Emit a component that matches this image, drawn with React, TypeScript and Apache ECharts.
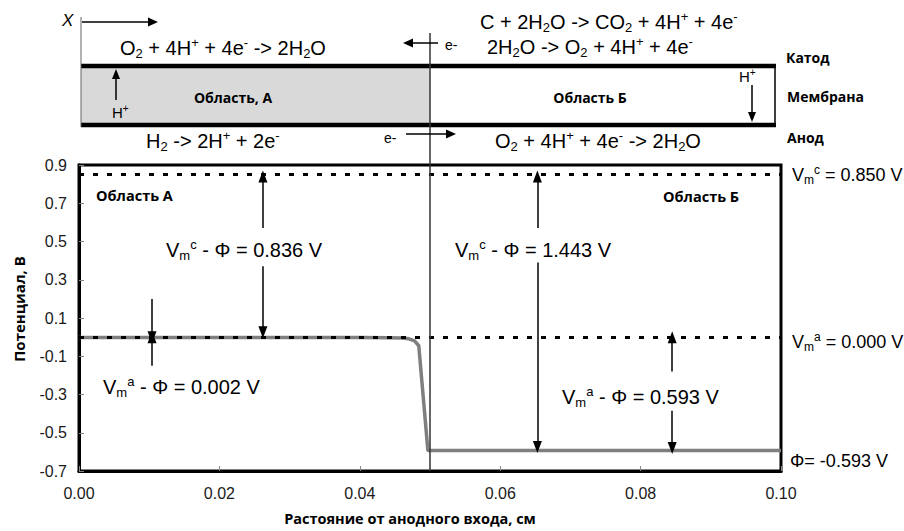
import React, { useEffect, useRef } from 'react';
import * as echarts from 'echarts';

// ---- data ----
const distance = [0, 0.01, 0.02, 0.03, 0.04, 0.044, 0.046, 0.047, 0.0478, 0.0484, 0.0497, 0.06, 0.08, 0.1];
const potential = [-0.002, -0.002, -0.002, -0.002, -0.002, -0.003, -0.005, -0.009, -0.02, -0.045, -0.593, -0.593, -0.593, -0.593];
const referenceLevels = [0.85, 0.0]; // Vm^c, Vm^a
const boundaryX = 0.05;
// [x, yFrom, yTo] annotation arrows (head at yTo)
const arrowSpecs: [number, number, number][] = [
  [0.0262, 0.57, 0.84],
  [0.0262, 0.37, 0.025],
  [0.0104, 0.2, 0.0],
  [0.0104, -0.15, 0.0],
  [0.0653, 0.57, 0.84],
  [0.0653, 0.39, -0.575],
  [0.0845, -0.18, 0.0],
  [0.0845, -0.385, -0.58],
];
const xTicks = { min: 0, max: 0.1, interval: 0.02 };
const yTicks = { min: -0.7, max: 0.9, interval: 0.2 };

const FF = '"Liberation Sans", Arial, sans-serif';
const FB = '"Open Sans", "Noto Sans", sans-serif';

function richFor(fs: number) {
  const s = Math.round(fs * 0.66);
  return {
    sub: { fontSize: s, lineHeight: s, verticalAlign: 'bottom', fontFamily: FF, fill: '#000' },
    sup: { fontSize: s, lineHeight: s, verticalAlign: 'top', fontFamily: FF, fill: '#000' },
  };
}

function txt(text: string, x: number, y: number, fs: number, opts: any = {}) {
  const align = opts.align || 'left';
  return {
    type: 'text',
    x,
    y,
    z: 20,
    silent: true,
    style: {
      text,
      fontSize: fs,
      fontFamily: opts.bold ? FB : FF,
      fontWeight: opts.bold ? 'bold' : 'normal',
      fontStyle: opts.italic ? 'italic' : 'normal',
      fill: '#000',
      lineHeight: Math.round(fs * 1.2),
      align,
      textAlign: align,
      verticalAlign: 'middle',
      textVerticalAlign: 'middle',
      rich: richFor(fs),
    },
  };
}

function arrowG(x1: number, y1: number, x2: number, y2: number, head = 9, w = 4, lw = 1.5) {
  const dx = x2 - x1, dy = y2 - y1;
  const len = Math.hypot(dx, dy);
  const ux = dx / len, uy = dy / len;
  const bx = x2 - ux * head, by = y2 - uy * head;
  return [
    { type: 'line', z: 20, silent: true, shape: { x1, y1, x2: bx, y2: by }, style: { stroke: '#000', lineWidth: lw } },
    {
      type: 'polygon', z: 20, silent: true,
      shape: { points: [[x2, y2], [bx - uy * w, by + ux * w], [bx + uy * w, by - ux * w]] },
      style: { fill: '#000' },
    },
  ];
}

export default function App() {
  const ref = useRef<HTMLDivElement>(null);
  useEffect(() => {
    document.body.style.margin = '0';
    const chart = echarts.init(ref.current!, null, { renderer: 'svg' });

    const arrowLines = arrowSpecs.map(([x, y1, y2]) => [
      { coord: [x, y1], symbol: 'none' },
      { coord: [x, y2], symbol: 'triangle', symbolSize: [9, 12] },
    ]);

    chart.setOption({
      animation: false,
      grid: { left: 79, right: 123, top: 165, bottom: 51, show: true, borderColor: '#000', borderWidth: 3 },
      xAxis: {
        type: 'value',
        ...xTicks,
        name: 'Растояние от анодного входа, см',
        nameLocation: 'middle',
        nameGap: 40,
        nameTextStyle: { fontFamily: FB, fontWeight: 'bold', fontSize: 14.5, color: '#000', padding: [0, 40, 0, 0] },
        axisLine: { show: true, onZero: false, lineStyle: { color: '#000', width: 3 } },
        axisTick: { show: true, inside: true, length: 5, lineStyle: { color: '#888' } },
        axisLabel: { fontFamily: FF, fontSize: 16, color: '#1a1a1a', margin: 14, formatter: (v: number) => v.toFixed(2) },
        splitLine: { show: false },
      },
      yAxis: {
        type: 'value',
        ...yTicks,
        name: 'Потенциал, В',
        nameLocation: 'middle',
        nameGap: 53,
        nameTextStyle: { fontFamily: FB, fontWeight: 'bold', fontSize: 15, color: '#000', padding: [0, 0, 0, 18] },
        axisLine: { show: true, onZero: false, lineStyle: { color: '#000', width: 3 } },
        axisTick: { show: true, inside: true, length: 5, lineStyle: { color: '#888' } },
        axisLabel: { fontFamily: FF, fontSize: 16, color: '#1a1a1a', margin: 12, formatter: (v: number) => String(Math.round(v * 10) / 10) },
        splitLine: { show: false },
      },
      series: [
        {
          type: 'line',
          data: [],
          z: 1,
          silent: true,
          markLine: {
            silent: true,
            animation: false,
            label: { show: false },
            symbol: 'none',
            lineStyle: { color: '#000', width: 3, type: [5, 9] },
            emphasis: { disabled: true },
            data: referenceLevels.map((v) => ({ yAxis: v })),
          },
        },
        {
          type: 'line',
          data: [],
          z: 2,
          silent: true,
          markLine: {
            silent: true,
            animation: false,
            label: { show: false },
            symbol: 'none',
            lineStyle: { color: '#333', width: 1.5, type: 'solid' },
            emphasis: { disabled: true },
            data: [{ xAxis: boundaryX }],
          },
        },
        {
          type: 'line',
          data: distance.map((d, i) => [d, potential[i]]),
          showSymbol: false,
          z: 3,
          silent: true,
          lineStyle: { color: '#7f7f7f', width: 3.5 },
        },
        {
          type: 'line',
          data: [],
          z: 4,
          silent: true,
          markLine: {
            silent: true,
            animation: false,
            label: { show: false },
            lineStyle: { color: '#000', width: 1.5, type: 'solid' },
            emphasis: { disabled: true },
            data: arrowLines,
          },
        },
      ],
    });

    const xb = chart.convertToPixel({ xAxisIndex: 0 }, boundaryX) as number;
    const gTop = 165;

    const graphic: any[] = [
      // region A fill
      { type: 'rect', z: 5, silent: true, shape: { x: 81, y: 68, width: xb - 81, height: 55 }, style: { fill: '#d9d9d9' } },
      // cathode / anode bars
      { type: 'line', z: 6, silent: true, shape: { x1: 81, y1: 66, x2: 776, y2: 66 }, style: { stroke: '#000', lineWidth: 4.5 } },
      { type: 'line', z: 6, silent: true, shape: { x1: 81, y1: 125, x2: 776, y2: 125 }, style: { stroke: '#000', lineWidth: 4.5 } },
      // left thin border with x axis marker
      { type: 'line', z: 6, silent: true, shape: { x1: 81, y1: 17, x2: 81, y2: 127 }, style: { stroke: '#666', lineWidth: 1 } },
      { type: 'line', z: 6, silent: true, shape: { x1: 775, y1: 66, x2: 775, y2: 125 }, style: { stroke: '#000', lineWidth: 1.5 } },
      // boundary line above the plot
      { type: 'line', z: 6, silent: true, shape: { x1: xb, y1: 33, x2: xb, y2: gTop }, style: { stroke: '#333', lineWidth: 1.5 } },
      ...arrowG(82, 22, 158, 22, 10, 4.5),
      txt('X', 62, 20, 17, { italic: true }),
      // reactions
      txt('O{sub|2} + 4H{sup|+} + 4e{sup|-} -> 2H{sub|2}O', 120, 48, 20),
      txt('C + 2H{sub|2}O -> CO{sub|2} + 4H{sup|+} + 4e{sup|-}', 480, 22, 20),
      txt('2H{sub|2}O -> O{sub|2} + 4H{sup|+} + 4e{sup|-}', 487, 47, 20),
      txt('H{sub|2} -> 2H{sup|+} + 2e{sup|-}', 146, 141, 20),
      txt('O{sub|2} + 4H{sup|+} + 4e{sup|-} -> 2H{sub|2}O', 495, 141, 20),
      ...arrowG(438, 43, 403, 43, 10, 4.5),
      txt('e-', 445, 45, 14),
      ...arrowG(406, 134, 456, 134, 10, 4.5),
      txt('e-', 384, 138, 14),
      // labels right of diagram
      txt('Катод', 786, 57, 14, { bold: true }),
      txt('Мембрана', 787, 96, 14, { bold: true }),
      txt('Анод', 787, 137, 14, { bold: true }),
      txt('Область, А', 233, 97, 14, { bold: true, align: 'center' }),
      txt('Область Б', 590, 97, 14, { bold: true, align: 'center' }),
      // H+ arrows
      ...arrowG(116, 100, 116, 69, 10, 4),
      txt('H{sup|+}', 112, 112, 15),
      ...arrowG(752, 85, 752, 122, 10, 4),
      txt('H{sup|+}', 739, 76, 15),
      // plot annotations
      txt('Область А', 96, 195, 14.5, { bold: true }),
      txt('Область Б', 663, 196, 14.5, { bold: true }),
      txt('V{sub|m}{sup|c} - Φ = 0.836 V', 166, 250, 20),
      txt('V{sub|m}{sup|a} - Φ = 0.002 V', 103, 387, 20),
      txt('V{sub|m}{sup|c} - Φ = 1.443 V', 455, 250, 20),
      txt('V{sub|m}{sup|a} - Φ = 0.593 V', 562, 397, 20),
      txt('V{sub|m}{sup|c} = 0.850 V', 792, 175, 18),
      txt('V{sub|m}{sup|a} = 0.000 V', 792, 342, 18),
      txt('Φ= -0.593 V', 790, 461, 18),
    ];
    chart.setOption({ graphic });

    return () => chart.dispose();
  }, []);
  return <div ref={ref} style={{ width: 904, height: 531 }} />;
}
